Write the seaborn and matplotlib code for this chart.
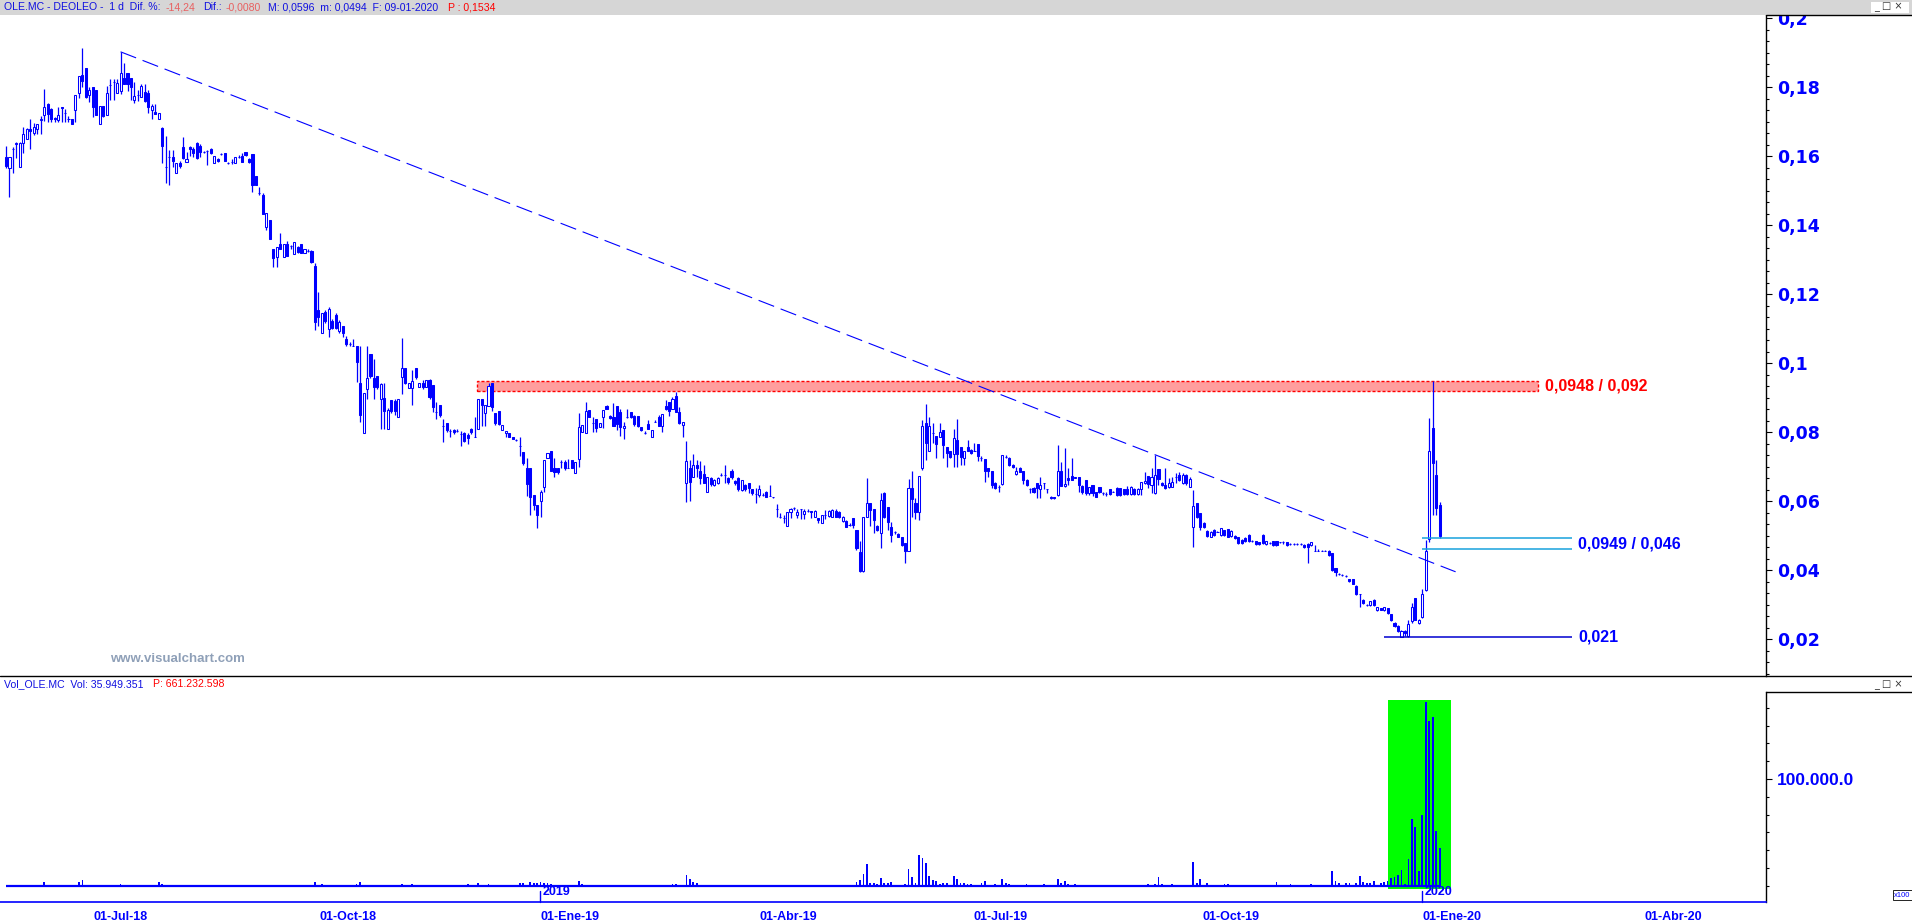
import numpy as np
import pandas as pd
import matplotlib
matplotlib.use("Agg")
import matplotlib.pyplot as plt
import matplotlib.ticker as mticker
import matplotlib.transforms as mtransforms
from matplotlib.lines import Line2D
from matplotlib.patches import Rectangle
import seaborn as sns

# daily OHLC of OLE.MC, in units of 0.0001 EUR (one entry per session, oldest first)
opens = [
    1598, 1564, 1620, 1636, 1569, 1639, 1648, 1678, 1667, 1677, 1703, 1718, 1750, 1735, 1710, 1704, 1743, 1724, 1708, 1706,
    1732, 1783, 1834, 1854, 1776, 1799, 1791, 1692, 1745, 1719, 1806, 1815, 1784, 1789, 1825, 1842, 1825, 1762, 1776, 1770,
    1785, 1783, 1733, 1728, 1706, 1680, 1569, 1598, 1598, 1550, 1579, 1627, 1584, 1625, 1620, 1637, 1629, 1612, 1615, 1619,
    1579, 1590, 1605, 1608, 1581, 1582, 1579, 1598, 1600, 1612, 1590, 1605, 1542, 1492, 1487, 1395, 1414, 1330, 1308, 1344,
    1308, 1344, 1339, 1316, 1335, 1344, 1318, 1325, 1325, 1281, 1154, 1086, 1149, 1098, 1123, 1139, 1094, 1107, 1069, 1055,
    1050, 1049, 941, 797, 924, 1027, 956, 963, 895, 898, 808, 893, 890, 845, 961, 985, 929, 927, 985, 930,
    942, 930, 951, 936, 858, 879, 818, 826, 804, 806, 804, 795, 797, 792, 808, 785, 808, 895, 856, 876,
    942, 856, 862, 806, 797, 797, 787, 777, 760, 743, 695, 695, 618, 589, 601, 642, 724, 745, 695, 695,
    714, 714, 695, 719, 681, 721, 799, 797, 864, 826, 838, 816, 845, 876, 847, 845, 876, 857, 811, 845,
    857, 847, 847, 814, 797, 823, 785, 830, 843, 818, 876, 888, 866, 905, 859, 821, 652, 695, 671, 705,
    686, 678, 625, 666, 647, 652, 676, 676, 668, 687, 658, 666, 632, 647, 652, 634, 620, 618, 618, 627,
    615, 613, 576, 555, 550, 528, 569, 579, 560, 576, 563, 572, 572, 553, 550, 536, 559, 557, 553, 572,
    569, 543, 543, 531, 550, 516, 453, 396, 553, 594, 576, 528, 507, 624, 582, 526, 509, 505, 497, 478,
    454, 637, 595, 569, 695, 827, 746, 796, 789, 787, 806, 756, 746, 737, 777, 756, 724, 758, 748, 746,
    766, 724, 721, 695, 688, 653, 642, 650, 729, 724, 705, 679, 695, 688, 661, 634, 639, 652, 634, 653,
    634, 613, 613, 618, 687, 644, 666, 673, 666, 669, 644, 661, 622, 647, 627, 640, 622, 620, 634, 627,
    637, 637, 634, 634, 620, 634, 620, 634, 653, 673, 647, 624, 693, 653, 647, 642, 642, 669, 676, 651,
    676, 642, 524, 593, 565, 536, 514, 497, 516, 511, 502, 516, 518, 499, 499, 495, 487, 492, 502, 483,
    483, 480, 502, 476, 478, 483, 483, 480, 480, 480, 476, 476, 476, 476, 473, 476, 473, 456, 456, 456,
    456, 456, 449, 405, 389, 386, 383, 373, 373, 354, 331, 313, 299, 299, 313, 284, 289, 284, 289, 272,
    248, 238, 207, 224, 209, 251, 318, 246, 263, 342, 489, 811, 676, 589,
]
highs = [
    1629, 1598, 1625, 1641, 1641, 1683, 1680, 1706, 1695, 1692, 1716, 1793, 1755, 1740, 1712, 1741, 1743, 1735, 1716, 1706,
    1776, 1832, 1912, 1854, 1801, 1799, 1791, 1745, 1745, 1803, 1822, 1822, 1822, 1902, 1871, 1842, 1825, 1815, 1790, 1810,
    1810, 1791, 1751, 1751, 1726, 1685, 1658, 1617, 1617, 1579, 1585, 1654, 1612, 1630, 1625, 1640, 1634, 1615, 1617, 1622,
    1600, 1595, 1608, 1608, 1583, 1590, 1596, 1604, 1610, 1612, 1593, 1605, 1542, 1511, 1492, 1434, 1414, 1330, 1335, 1376,
    1344, 1355, 1341, 1350, 1339, 1344, 1331, 1330, 1328, 1290, 1205, 1144, 1154, 1163, 1128, 1144, 1125, 1107, 1079, 1060,
    1070, 1049, 1048, 914, 1048, 1027, 1011, 963, 941, 941, 869, 893, 895, 895, 1072, 985, 943, 980, 985, 942,
    950, 951, 955, 936, 888, 879, 837, 826, 808, 810, 808, 804, 800, 797, 812, 845, 895, 895, 878, 942,
    942, 856, 862, 821, 803, 797, 787, 779, 787, 743, 724, 695, 618, 589, 632, 719, 740, 745, 724, 695,
    719, 719, 721, 719, 714, 855, 821, 888, 864, 843, 838, 826, 864, 879, 850, 884, 876, 866, 828, 866,
    857, 850, 847, 816, 802, 835, 806, 835, 850, 851, 893, 888, 901, 917, 874, 828, 775, 719, 737, 719,
    717, 705, 669, 669, 665, 669, 680, 705, 670, 692, 660, 670, 661, 650, 652, 634, 637, 647, 622, 630,
    647, 613, 592, 565, 560, 567, 579, 584, 576, 576, 576, 576, 572, 574, 550, 559, 574, 574, 576, 576,
    572, 557, 545, 535, 550, 516, 485, 553, 666, 594, 576, 530, 623, 627, 582, 540, 512, 507, 497, 478,
    663, 687, 608, 673, 835, 881, 845, 825, 789, 825, 806, 756, 746, 808, 837, 756, 746, 777, 750, 767,
    766, 731, 721, 695, 688, 656, 647, 734, 734, 727, 708, 698, 698, 688, 665, 637, 642, 652, 669, 653,
    634, 615, 613, 763, 714, 753, 695, 724, 669, 669, 648, 661, 640, 647, 627, 642, 627, 625, 634, 630,
    640, 637, 634, 644, 644, 637, 637, 654, 685, 673, 695, 734, 693, 656, 695, 666, 671, 680, 685, 680,
    678, 669, 632, 595, 565, 540, 516, 512, 519, 514, 521, 516, 518, 516, 502, 497, 490, 495, 504, 486,
    485, 482, 504, 485, 480, 485, 485, 482, 483, 482, 478, 478, 478, 478, 475, 478, 482, 473, 460, 458,
    458, 458, 449, 405, 391, 388, 385, 375, 373, 356, 331, 316, 302, 311, 315, 294, 291, 294, 291, 274,
    250, 240, 226, 226, 254, 306, 320, 258, 345, 487, 840, 948, 719, 596,
]
lows = [
    1564, 1482, 1552, 1593, 1569, 1610, 1648, 1621, 1662, 1663, 1663, 1702, 1700, 1700, 1700, 1699, 1699, 1699, 1700, 1694,
    1699, 1767, 1801, 1769, 1757, 1712, 1719, 1692, 1712, 1719, 1762, 1762, 1784, 1780, 1808, 1789, 1762, 1755, 1760, 1770,
    1758, 1724, 1706, 1722, 1706, 1579, 1523, 1515, 1569, 1550, 1565, 1590, 1584, 1600, 1596, 1590, 1598, 1610, 1574, 1605,
    1579, 1582, 1603, 1585, 1578, 1578, 1579, 1594, 1584, 1600, 1581, 1496, 1516, 1487, 1431, 1385, 1360, 1277, 1277, 1331,
    1308, 1311, 1330, 1316, 1320, 1320, 1318, 1322, 1289, 1096, 1108, 1086, 1115, 1076, 1098, 1098, 1086, 1076, 1050, 1050,
    1048, 944, 830, 797, 895, 956, 895, 924, 808, 808, 808, 855, 850, 845, 911, 939, 929, 879, 955, 930,
    925, 930, 895, 859, 837, 845, 770, 800, 787, 795, 800, 760, 770, 766, 795, 785, 808, 818, 818, 876,
    862, 820, 820, 806, 785, 785, 779, 775, 731, 705, 615, 560, 575, 521, 553, 625, 724, 688, 671, 678,
    695, 690, 695, 695, 681, 700, 799, 797, 843, 799, 800, 816, 811, 866, 838, 818, 806, 789, 779, 840,
    840, 818, 815, 804, 795, 808, 785, 828, 818, 801, 864, 847, 866, 859, 824, 787, 596, 599, 671, 671,
    650, 652, 625, 645, 645, 650, 672, 652, 650, 665, 648, 630, 630, 630, 623, 618, 595, 613, 615, 611,
    615, 610, 555, 550, 537, 528, 550, 575, 550, 547, 547, 568, 550, 553, 536, 536, 547, 555, 553, 553,
    550, 540, 524, 527, 521, 458, 393, 393, 553, 528, 507, 514, 463, 550, 516, 482, 505, 495, 470, 420,
    454, 555, 547, 545, 690, 719, 746, 767, 724, 787, 724, 698, 725, 700, 698, 705, 705, 746, 737, 744,
    717, 717, 656, 669, 637, 635, 627, 648, 724, 702, 695, 676, 683, 650, 645, 624, 624, 608, 608, 634,
    622, 605, 606, 615, 644, 642, 647, 661, 666, 625, 620, 618, 618, 615, 611, 624, 618, 616, 618, 625,
    616, 616, 618, 618, 618, 618, 618, 618, 650, 637, 622, 620, 647, 644, 634, 637, 642, 651, 658, 649,
    648, 642, 466, 552, 516, 521, 497, 495, 500, 509, 500, 500, 495, 497, 490, 476, 476, 480, 481, 481,
    474, 474, 476, 474, 476, 471, 471, 478, 476, 471, 474, 474, 474, 474, 464, 420, 471, 454, 454, 454,
    454, 442, 398, 383, 387, 384, 381, 365, 360, 329, 294, 302, 297, 297, 297, 282, 283, 282, 273, 252,
    236, 220, 205, 210, 207, 248, 254, 244, 260, 340, 480, 560, 560, 494,
]
closes = [
    1571, 1596, 1619, 1637, 1639, 1665, 1677, 1672, 1685, 1692, 1706, 1743, 1722, 1706, 1706, 1718, 1739, 1724, 1706, 1694,
    1776, 1832, 1818, 1772, 1791, 1741, 1719, 1745, 1716, 1784, 1806, 1815, 1813, 1842, 1808, 1808, 1799, 1775, 1776, 1803,
    1760, 1743, 1745, 1722, 1726, 1630, 1569, 1598, 1586, 1579, 1572, 1593, 1590, 1619, 1610, 1595, 1612, 1612, 1615, 1608,
    1600, 1585, 1605, 1585, 1581, 1582, 1596, 1598, 1584, 1604, 1584, 1516, 1516, 1492, 1431, 1434, 1360, 1305, 1335, 1331,
    1344, 1311, 1339, 1350, 1323, 1320, 1331, 1325, 1294, 1120, 1133, 1144, 1123, 1156, 1101, 1103, 1118, 1088, 1055, 1055,
    1050, 1004, 850, 914, 956, 963, 932, 932, 939, 860, 864, 860, 862, 895, 985, 943, 943, 948, 959, 942,
    930, 951, 901, 872, 858, 850, 818, 806, 804, 799, 804, 795, 775, 782, 799, 785, 895, 878, 878, 934,
    872, 827, 824, 821, 803, 785, 779, 777, 760, 710, 649, 611, 589, 560, 627, 719, 740, 688, 683, 683,
    714, 695, 695, 695, 714, 816, 821, 861, 843, 826, 811, 826, 864, 868, 840, 818, 823, 814, 818, 845,
    845, 823, 818, 806, 797, 808, 806, 830, 818, 851, 866, 862, 895, 859, 827, 828, 716, 656, 705, 697,
    668, 652, 669, 649, 661, 666, 676, 676, 656, 669, 652, 634, 661, 634, 637, 622, 620, 634, 618, 613,
    615, 611, 576, 555, 550, 567, 576, 579, 567, 576, 572, 572, 569, 572, 545, 559, 559, 572, 574, 555,
    553, 553, 526, 531, 531, 463, 396, 553, 594, 574, 545, 516, 603, 555, 540, 502, 509, 497, 473, 454,
    637, 605, 569, 673, 818, 769, 818, 796, 766, 799, 763, 739, 729, 782, 737, 729, 746, 746, 739, 746,
    731, 724, 688, 688, 647, 637, 642, 734, 729, 705, 698, 688, 685, 661, 647, 634, 627, 637, 647, 653,
    634, 608, 608, 687, 644, 650, 661, 661, 669, 647, 627, 624, 640, 624, 613, 627, 622, 620, 620, 627,
    618, 618, 620, 620, 642, 620, 634, 654, 659, 650, 671, 676, 663, 647, 637, 652, 654, 669, 661, 676,
    651, 663, 586, 555, 524, 524, 499, 509, 502, 511, 521, 502, 497, 514, 492, 478, 478, 483, 483, 483,
    476, 476, 478, 483, 478, 473, 473, 480, 480, 473, 476, 476, 476, 476, 466, 466, 480, 456, 456, 456,
    456, 444, 400, 393, 389, 386, 383, 367, 360, 331, 331, 304, 299, 309, 299, 292, 285, 292, 275, 254,
    238, 222, 224, 217, 244, 292, 256, 254, 331, 454, 745, 710, 580, 500,
]

# volume (x100 shares), only sessions with a visible bar
vol_idx = [
    11, 21, 22, 33, 44, 45, 89, 91, 101, 102, 114, 117, 133, 136, 139, 148, 149, 151, 152, 153,
    154, 155, 156, 157, 165, 166, 192, 193, 196, 197, 198, 199,
    245, 246, 247, 248, 249, 250, 251, 252, 253, 254, 255, 259, 260, 261, 262, 263, 264, 265,
    266, 267, 268, 269, 270, 271, 273, 274, 275, 276, 277, 278, 281, 282, 285, 287, 288, 289,
    294, 299, 303, 304, 305, 306, 308, 329, 331, 332, 333, 336, 342, 343, 344, 346, 351, 352,
    366, 370, 376,
    382, 383, 384, 386, 387, 389, 390, 391, 392, 393, 394, 396, 397, 398, 399, 400, 401, 402,
    403, 404, 405, 406, 407, 408, 409, 410, 411, 412, 413,
]
vol_val = [
    3400, 3400, 5300, 1200, 3100, 1200, 3100, 1200, 1200, 3100, 1200, 1200, 1200, 2200, 1200, 2200, 2200, 3100, 2200, 2200,
    3100, 2200, 2200, 1200, 4400, 1200, 1200, 1200, 10000, 6200, 3100, 2200,
    3500, 5400, 11000, 20300, 2200, 2200, 1200, 7200, 2200, 2200, 3400, 1200, 15600, 8100, 2200, 28800, 26000, 21300,
    9100, 5300, 4400, 1200, 2200, 2200, 9100, 6200, 2200, 2200, 1200, 1200, 2200, 4400, 1200, 6200, 2200, 1200,
    1200, 1200, 6200, 2200, 4100, 1200, 1200, 1200, 1200, 8100, 1200, 1200, 22200, 2200, 6200, 2200, 1200, 1200,
    3400, 1200, 1200,
    13800, 4400, 2200, 2200, 2200, 2200, 9100, 3100, 2200, 2200, 4400, 2200, 3100, 4400, 7000, 8300, 9900, 14900,
    1200, 25300, 62700, 55200, 13800, 66400, 172400, 154300, 158100, 51300, 35000,
]

# time axis (session index of each month tick)
tick_pos = [25.3, 90.3, 153.9, 217.1, 278.6, 344.7, 408.0, 472.0]
tick_lbl = ["01-Jul-18", "01-Oct-18", "01-Ene-19", "01-Abr-19", "01-Jul-19", "01-Oct-19", "01-Ene-20", "01-Abr-20"]
year_pos = [153.9, 408.0]
year_lbl = ["2019", "2020"]

price_ticks = [0.02, 0.04, 0.06, 0.08, 0.10, 0.12, 0.14, 0.16, 0.18, 0.20]
price_lbl = ["0,02", "0,04", "0,06", "0,08", "0,1", "0,12", "0,14", "0,16", "0,18", "0,2"]

# drawings on the chart
trend_x = [33, 417.6]
trend_y = [0.1902, 0.0395]
res_band = [0.0920, 0.0948]
res_span = [135.8, 441.3]
sup_lines = [0.0494, 0.0460]
sup_span = [408.0, 451.0]
low_line = 0.0206
low_span = [397.1, 451.0]
green_span = [398.2, 416.4]

BLUE = "#0000ff"
W, H = 1912, 922


def fx(px):
    return px / W


def fy(py):
    return 1 - py / H


def draw():
    sns.set_style("white")
    plt.rcParams["font.family"] = ["Liberation Sans", "DejaVu Sans"]
    plt.rcParams["lines.scale_dashes"] = False

    fig = plt.figure(figsize=(W / 100, H / 100), dpi=100)
    ax = fig.add_axes([0, fy(676), fx(1765.6), (676 - 15) / H])
    axv = fig.add_axes([0, fy(902), fx(1765.6), (902 - 691.7) / H])

    df = pd.DataFrame({"o": opens, "h": highs, "l": lows, "c": closes}) / 1e4
    df["i"] = np.arange(len(df))
    up = df["c"] >= df["o"]

    # --- price panel ---
    ax.add_patch(Rectangle((res_span[0], res_band[0]), res_span[1] - res_span[0], res_band[1] - res_band[0],
                           facecolor="#ff9e9e", edgecolor="#ff0000", lw=1.0, linestyle=(0, (2.2, 1.4)), zorder=1))
    ax.vlines(df["i"], df["l"], df["h"], color=BLUE, lw=0.9, zorder=3)
    ax.bar(df["i"], (df["c"] - df["o"]).abs(), bottom=df[["o", "c"]].min(axis=1), width=0.6,
           color=np.where(up, "white", BLUE), edgecolor=BLUE, linewidth=0.75, zorder=4)
    sns.lineplot(x=trend_x, y=trend_y, ax=ax, color=BLUE, linewidth=0.8, linestyle=(0, (12, 5)), zorder=5)
    ax.hlines(sup_lines, sup_span[0], sup_span[1], color="#17a2dc", lw=1.1, zorder=6)
    ax.hlines(low_line, low_span[0], low_span[1], color="#0000d0", lw=1.1, zorder=6)

    ax.text(res_span[1] + 2, sum(res_band) / 2, "0,0948 / 0,092", color="#ff0000", fontsize=11.5,
            fontweight="bold", va="center", ha="left")
    ax.text(sup_span[1] + 2, sum(sup_lines) / 2, "0,0949 / 0,046", color=BLUE, fontsize=11.5,
            fontweight="bold", va="center", ha="left")
    ax.text(low_span[1] + 2, low_line, "0,021", color=BLUE, fontsize=11.5,
            fontweight="bold", va="center", ha="left")

    ax.set_xlim(-1.73, 506.9)
    ax.set_ylim(0.0093, 0.20087)
    for s in ["left", "top", "bottom"]:
        ax.spines[s].set_visible(False)
    ax.spines["right"].set_color("black")
    ax.spines["right"].set_linewidth(1)
    ax.yaxis.tick_right()
    ax.set_yticks(price_ticks)
    ax.set_yticklabels(price_lbl, fontweight="bold", family="DejaVu Sans")
    ax.yaxis.set_minor_locator(mticker.MultipleLocator(0.02 / 6))
    ax.tick_params(axis="y", which="major", direction="out", length=4, width=0.8, color="black",
                   labelcolor=BLUE, labelsize=12.5, pad=4)
    ax.tick_params(axis="y", which="minor", direction="out", length=2, width=0.8, color="black")
    ax.set_xticks([])
    ax.set_xlabel("")
    ax.set_ylabel("")

    # --- volume panel ---
    axv.add_patch(Rectangle((green_span[0], -3100), green_span[1] - green_span[0], 177100,
                            facecolor="#00ff00", edgecolor="none", zorder=1))
    sns.barplot(x=vol_idx, y=vol_val, native_scale=True, width=0.5, color=BLUE, saturation=1,
                errorbar=None, ax=axv, zorder=3, linewidth=0, edgecolor=BLUE)
    axv.hlines(0, 0, len(df) - 1, color=BLUE, lw=1.6, zorder=4)

    axv.set_xlim(-1.73, 506.9)
    axv.set_ylim(-15276, 181817)
    axv.spines["left"].set_visible(False)
    axv.spines["top"].set_visible(False)
    axv.spines["bottom"].set_color(BLUE)
    axv.spines["bottom"].set_linewidth(1.2)
    axv.spines["right"].set_color("black")
    axv.spines["right"].set_linewidth(1)
    axv.yaxis.tick_right()
    axv.set_yticks([100000])
    axv.set_yticklabels(["100.000.0"], fontweight="bold")
    axv.yaxis.set_minor_locator(mticker.FixedLocator([k * 100000 / 6 for k in range(11)]))
    axv.tick_params(axis="y", which="major", direction="out", length=4, width=0.8, color="black",
                    labelcolor=BLUE, labelsize=12.5, pad=4)
    axv.tick_params(axis="y", which="minor", direction="out", length=2.5, width=0.8, color="black")
    axv.set_xticks(tick_pos)
    axv.set_xticklabels(tick_lbl, fontweight="bold", ha="left")
    axv.xaxis.set_minor_locator(mticker.NullLocator())
    axv.tick_params(axis="x", direction="out", length=6, width=1, color=BLUE, labelcolor=BLUE,
                    labelsize=9, pad=0.5)
    axv.set_xlabel("")
    axv.set_ylabel("")

    trans = mtransforms.blended_transform_factory(axv.transData, axv.transAxes)
    for p, lbl in zip(year_pos, year_lbl):
        axv.plot([p, p], [0, 0.05], transform=trans, color=BLUE, lw=1, clip_on=False)
        axv.text(p + 0.6, 0.018, lbl, transform=trans, ha="left", va="bottom", color=BLUE,
                 fontsize=9, fontweight="bold")

    # --- window chrome and titles ---
    fig.add_artist(Rectangle((0, fy(15)), 1, 15 / H, transform=fig.transFigure,
                             facecolor="#d6d6d6", edgecolor="none", zorder=10))
    fig.add_artist(Rectangle((fx(1871), fy(13)), fx(38), 11 / H, transform=fig.transFigure,
                             facecolor="white", edgecolor="none", zorder=11))
    fig.text(fx(1874), fy(7.5), "_ □ ×", family="DejaVu Sans", fontsize=7, color="#333333",
             va="center", zorder=12)
    fig.add_artist(Line2D([fx(1765.6), 1], [fy(15.5)] * 2, color="black", lw=1, zorder=11))

    head = [
        (3.6, "OLE.MC - DEOLEO -  1 d  Dif. %:", "#1010e0"),
        (166, "-14,24", "#e86060"),
        (203, "Dif.:", "#1010e0"),
        (226, "-0,0080", "#e86060"),
        (268, "M: 0,0596  m: 0,0494  F: 09-01-2020", "#1010e0"),
        (448, "P : 0,1534", "#ff0000"),
    ]
    for x, s, c in head:
        fig.text(fx(x), fy(7.5), s, color=c, fontsize=7.6, va="center", ha="left", zorder=12)

    fig.add_artist(Line2D([0, 1], [fy(676)] * 2, color="black", lw=1, zorder=9))
    fig.add_artist(Line2D([fx(1765.6), 1], [fy(691.7)] * 2, color="black", lw=1, zorder=9))
    fig.text(fx(3.6), fy(684), "Vol_OLE.MC  Vol: 35.949.351", color="#1010e0", fontsize=7.6, va="center")
    fig.text(fx(153), fy(684), "P: 661.232.598", color="#ff0000", fontsize=7.6, va="center")
    fig.text(fx(1874), fy(684.5), "_ □ ×", family="DejaVu Sans", fontsize=7, color="#333333", va="center")
    fig.text(fx(1894), fy(895), "x100", color=BLUE, fontsize=5.5, va="center",
             bbox=dict(boxstyle="square,pad=0.15", fc="white", ec="black", lw=0.6))
    fig.text(fx(110), fy(658.5), "www.visualchart.com", color="#8fa0b8", fontsize=9.5,
             fontweight="bold", va="center")

    fig.savefig("out.png", dpi=100)


if __name__ == "__main__":
    draw()
